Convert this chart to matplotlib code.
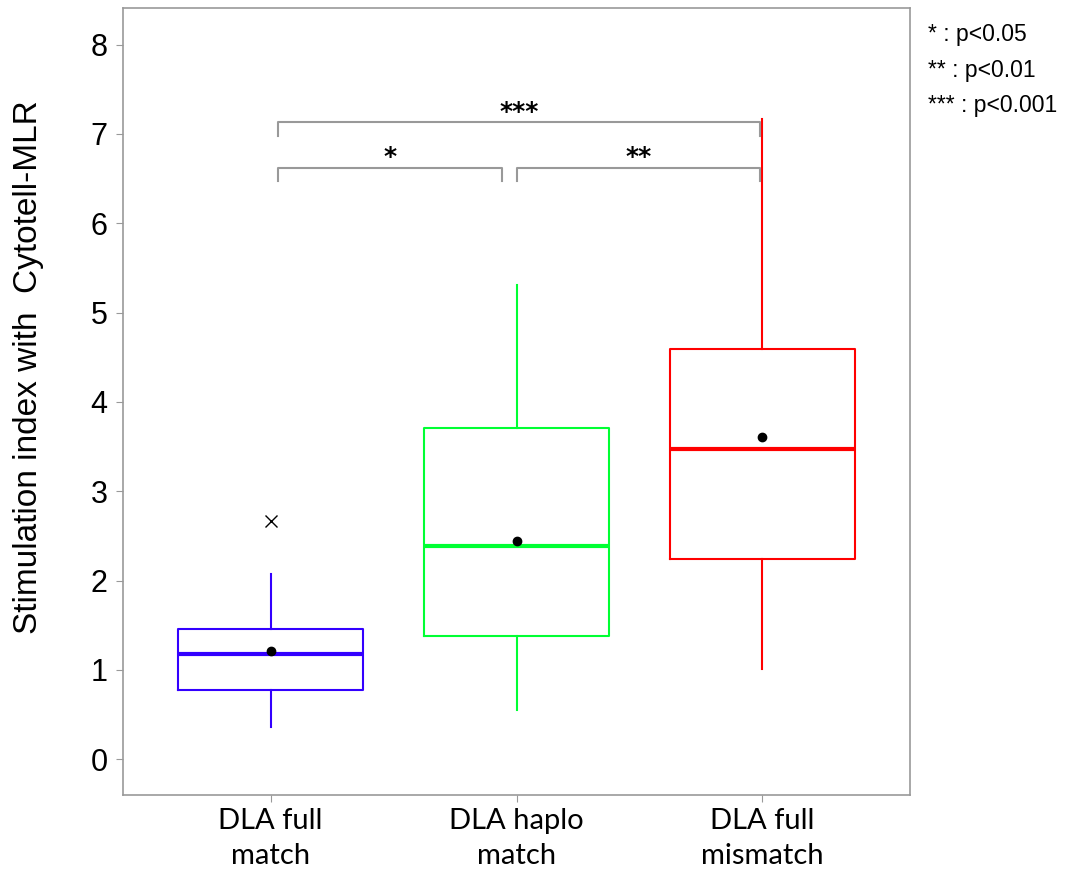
import matplotlib
matplotlib.use("Agg")
import matplotlib.pyplot as plt

# box statistics
groups = ["DLA full\nmatch", "DLA haplo\nmatch", "DLA full\nmismatch"]
q1 = [0.77, 1.38, 2.24]
q3 = [1.46, 3.71, 4.59]
med = [1.18, 2.39, 3.47]
whislo = [0.36, 0.55, 1.01]
whishi = [2.07, 5.31, 7.17]
means = [1.21, 2.44, 3.61]
outliers = [[2.67], [], []]
colors = ["#3300ff", "#00ff33", "#ff0000"]

# significance brackets: (x1, x2, y, label)
brackets = [(1.03, 2.99, 7.13, "***"), (1.03, 1.94, 6.62, "*"), (2.0, 2.99, 6.62, "**")]
legend_lines = ["* : p<0.05", "** : p<0.01", "*** : p<0.001"]

plt.rcParams['font.family'] = ['Liberation Sans', 'DejaVu Sans']

fig = plt.figure(figsize=(10.65, 8.71), dpi=100)
ax = fig.add_axes([123/1065, 1 - 795/871, 787/1065, 787/871])

for i in range(3):
    stats = [dict(q1=q1[i], q3=q3[i], med=med[i], whislo=whislo[i], whishi=whishi[i],
                  fliers=outliers[i], mean=means[i])]
    c = colors[i]
    ax.bxp(stats, positions=[i + 1], widths=0.75, showcaps=False, showmeans=True,
           boxprops=dict(color=c, linewidth=1.5),
           whiskerprops=dict(color=c, linewidth=1.5),
           medianprops=dict(color=c, linewidth=3),
           meanprops=dict(marker="o", markerfacecolor="black", markeredgecolor="black", markersize=6),
           flierprops=dict(marker="x", markeredgecolor="black", markersize=8, markeredgewidth=1))

gray = "#999999"
for x1, x2, y, lab in brackets:
    ax.plot([x1, x1, x2, x2], [y - 0.15, y, y, y - 0.15], color=gray, lw=1.5, solid_joinstyle="round")
    ax.text((x1 + x2) / 2, y + 0.04, lab, ha="center", va="baseline", fontsize=18,
            fontweight="bold", family="DejaVu Sans")

ax.set_xlim(0.4, 3.6)
ax.set_ylim(-0.4, 8.41)
ax.set_yticks(range(0, 9))
ax.set_xticks([1, 2, 3])
ax.set_xticklabels(groups, fontsize=21, family="Lato", linespacing=1.45)
ax.tick_params(axis="y", labelsize=22, color=gray, length=5, pad=6)
ax.tick_params(axis="x", color=gray, length=5, pad=4)
for s in ax.spines.values():
    s.set_color(gray)
    s.set_linewidth(1.2)
ax.set_ylabel("Stimulation index with  Cytotell-MLR", fontsize=24)
ax.yaxis.set_label_coords(-0.100, 0.544)

fig.text(928/1065, 1 - 70/871, "\n".join(legend_lines), fontsize=16.5, va="center",
         ha="left", linespacing=1.69)

fig.savefig("out.png", dpi=100)
